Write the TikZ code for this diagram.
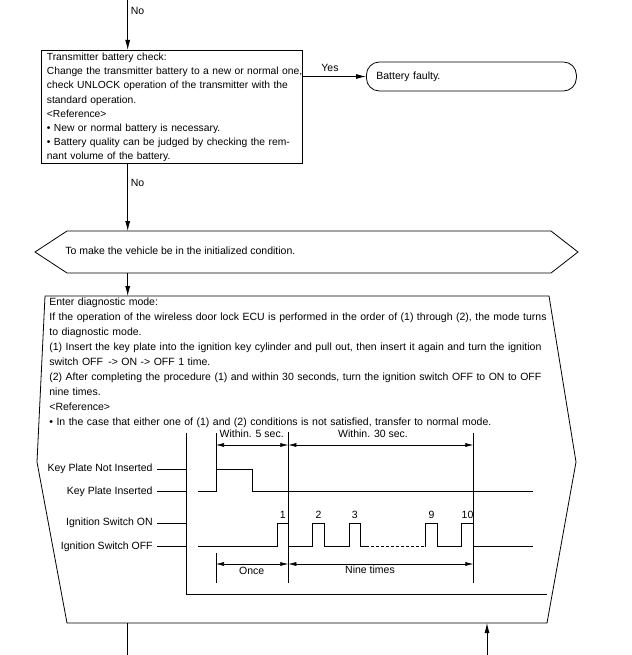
\documentclass[tikz,border=0pt]{standalone}
\usepackage{fontspec}
\setmainfont{Liberation Sans}
\usetikzlibrary{arrows.meta}
\begin{document}
\begin{tikzpicture}[x=1pt,y=-1pt,line width=0.8pt,
  arr/.style={-{Latex[length=10pt,width=5pt]}},
  dimarr/.style={{Latex[length=8pt,width=4pt]}-{Latex[length=8pt,width=4pt]},line width=0.6pt},
  txt/.style={font=\fontsize{10.5}{15}\selectfont,inner sep=0pt},
  sig/.style={line width=0.8pt},
  thin/.style={line width=0.6pt}]
\useasboundingbox (0,0) rectangle (631,655);

% ---------- box 1 ----------
\node[draw,minimum width=261pt,minimum height=113pt,anchor=north west,inner sep=0pt] (box1) at (41,50) {};
\node[txt,anchor=base west,text width=254pt,align=left,font=\fontsize{10.3}{14.2}\selectfont] (box1t) at (46.5,60.5) {%
Transmitter battery check:\\
\makebox[253pt][s]{Change the transmitter battery to a new or normal one,}\\
\makebox[251pt][s]{check UNLOCK operation of the transmitter with the}\\
standard operation.\\
<Reference>\\
\textbullet\ New or normal battery is necessary.\\
\makebox[247pt][s]{\textbullet\ Battery quality can be judged by checking the rem-}\\
nant volume of the battery.};

% ---------- battery faulty ----------
\node[draw,rounded corners=13pt,minimum width=210pt,minimum height=29pt,anchor=west,inner xsep=10pt,text width=190pt,align=left,font=\fontsize{10.5}{15}\selectfont] (bf) at (366,76.5) {Battery faulty.};

% ---------- hexagon ----------
\draw (35,252) -- (67,231) coordinate (hexTL) -- (551,231) -- (578,252) -- (551,273) -- (67,273) -- cycle;
\coordinate (hexT) at (127.7,231);
\coordinate (hexB) at (127.7,273);
\node[txt,anchor=mid west] (hext) at (65,252) {To make the vehicle be in the initialized condition.};

% ---------- big box ----------
\draw (45,296) -- (549,296) -- (576,462) -- (547,623) -- (67,623) -- (37,462) -- cycle;
\coordinate (bbIn) at (127.7,296);
\coordinate (bbOutL) at (127.7,623);
\coordinate (bbInR) at (487,623);
\coordinate (endL) at (127.7,655);
\coordinate (endR) at (487,655);
\node[txt,anchor=base west,text width=510pt,align=left] (bbt) at (49,305.5) {%
Enter diagnostic mode:\\
If the operation of the wireless door lock ECU is performed in the order of (1) through (2), the mode turns\\
to diagnostic mode.\\
(1) Insert the key plate into the ignition key cylinder and pull out, then insert it again and turn the ignition\\
switch OFF \,-> ON -> OFF 1 time.\\
(2) After completing the procedure (1) and within 30 seconds, turn the ignition switch OFF to ON to OFF\\
nine times.\\
<Reference>\\
\textbullet\ In the case that either one of (1) and (2) conditions is not satisfied, transfer to normal mode.};

% ---------- connectors ----------
\coordinate (top) at (127.7,0);
\draw[arr] (top) -- (box1.north -| top);
\node[txt,anchor=mid west] (no1) at (130.5,11.7) {No};
\draw[arr] (box1.south -| top) -- (hexT);
\node[txt,anchor=mid west] (no2) at (130.5,184) {No};
\draw[arr] (box1.east |- bf.west) -- (bf.west);
\node[txt,anchor=mid] (yes) at (330,69.3) {Yes};
\draw[arr] (hexB) -- (bbIn);
\draw (bbOutL) -- (endL);
\draw[arr] (endR) -- (bbInR);

% ---------- timing diagram ----------
\draw[thin] (186.7,433) -- (186.7,594) -- (547,594);
\node[txt,anchor=mid east] (l1) at (153,469.3) {Key Plate Not Inserted};
\node[txt,anchor=mid east] (l2) at (153,491.7) {Key Plate Inserted};
\node[txt,anchor=mid east] (l3) at (153,523.3) {Ignition Switch ON};
\node[txt,anchor=mid east] (l4) at (153,546.7) {Ignition Switch OFF};
\draw[thin] (157,469.3) -- (186.7,469.3);
\draw[thin] (157,491.7) -- (186.7,491.7);
\draw[thin] (157,523.3) -- (186.7,523.3);
\draw[thin] (157,546.7) -- (186.7,546.7);

% key plate signal
\draw[sig] (198.3,491.7) -- (216.7,491.7) -- (216.7,469.3) -- (252.7,469.3) -- (252.7,491.7) -- (533.3,491.7);
% ignition signal
\draw[sig] (198.3,546.7) -- (277.3,546.7) -- (277.3,523.3) -- (288.3,523.3) -- (288.3,546.7)
  -- (312.7,546.7) -- (312.7,523.3) -- (324.3,523.3) -- (324.3,546.7)
  -- (349,546.7) -- (349,523.3) -- (360.7,523.3) -- (360.7,546.7) -- (366,546.7);
\draw[sig,dash pattern=on 2.5pt off 2.5pt] (366,546.7) -- (425.7,546.7);
\draw[sig] (425.7,546.7) -- (425.7,523.3) -- (437.3,523.3) -- (437.3,546.7)
  -- (461.7,546.7) -- (461.7,523.3) -- (473.3,523.3) -- (473.3,546.7) -- (533.3,546.7);

% pulse numbers
\node[txt,anchor=mid] (p1) at (282.8,516) {1};
\node[txt,anchor=mid] (p2) at (318.5,516) {2};
\node[txt,anchor=mid] (p3) at (354.8,516) {3};
\node[txt,anchor=mid] (p9) at (431.5,516) {9};
\node[txt,anchor=mid] (p10) at (467.5,516) {10};

% marker lines
\draw[thin] (216,433) -- (216,469.3);
\draw[thin] (216,553) -- (216,583);
\draw[thin] (288.3,431.7) -- (288.3,583);
\draw[thin] (473.3,433) -- (473.3,583);

% dimensions
\coordinate (d1) at (216,445);
\coordinate (d2) at (288.3,445);
\coordinate (d3) at (473.3,445);
\draw[dimarr] (d1) -- (d2);
\draw[dimarr] (d2) -- (d3);
\node[txt,anchor=mid] (w5) at (251.7,435) {Within. 5 sec.};
\node[txt,anchor=mid] (w30) at (373,435) {Within. 30 sec.};
\coordinate (e1) at (216,564);
\coordinate (e2) at (288.3,564);
\coordinate (e3) at (473.3,564);
\draw[dimarr] (e1) -- (e2);
\draw[dimarr] (e2) -- (e3);
\node[txt,anchor=mid] (once) at (251.7,571.7) {Once};
\node[txt,anchor=mid] (nine) at (370,570.7) {Nine times};
\end{tikzpicture}
\end{document}
